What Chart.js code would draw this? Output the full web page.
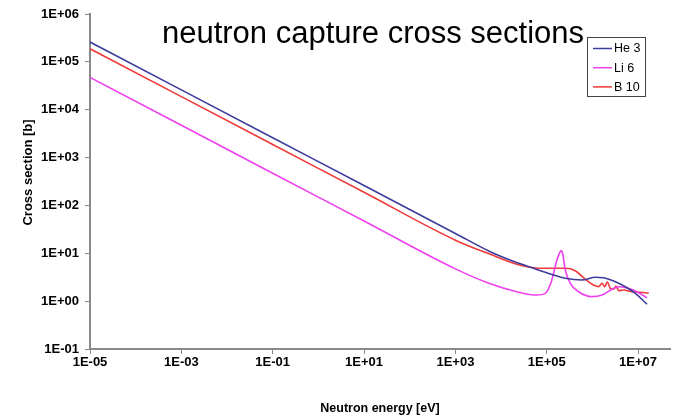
<!DOCTYPE html>
<html>
<head>
<meta charset="utf-8">
<script src="https://cdn.jsdelivr.net/npm/chart.js@4/dist/chart.umd.min.js"></script>
<style>
html,body{margin:0;padding:0;background:#fff;}
#wrap{width:681px;height:419px;position:relative;}
</style>
</head>
<body>
<div id="wrap"><canvas id="c" width="681" height="419"></canvas></div>
<script>
// ---- data ----
const chartTitle = 'neutron capture cross sections';
const xTitle = 'Neutron energy [eV]';
const yTitle = 'Cross section [b]';
const seriesNames = ['He 3', 'Li 6', 'B 10'];

const xTickValues = [1e-5, 1e-3, 1e-1, 1e1, 1e3, 1e5, 1e7];
const xTickLabels = ['1E-05', '1E-03', '1E-01', '1E+01', '1E+03', '1E+05', '1E+07'];
const yTickValues = [1e-1, 1e0, 1e1, 1e2, 1e3, 1e4, 1e5, 1e6];
const yTickLabels = ['1E-01', '1E+00', '1E+01', '1E+02', '1E+03', '1E+04', '1E+05', '1E+06'];

const he3Energy = [1e-5, 1e-3, 1e-1, 1e1, 1e3, 5.8e3, 2.2e4, 5.0e4, 9.3e4, 1.2e5, 2.55e5, 5.9e5, 1.16e6, 1.76e6, 3.18e6, 5.26e6, 8.7e6, 1.57e7];
const he3Sigma  = [2.6e5, 2.6e4, 2.6e3, 260, 26, 10.8, 6.4, 4.9, 4.0, 3.7, 3.0, 2.76, 3.15, 3.09, 2.55, 2.0, 1.46, 0.86];

const li6Energy = [1e-5, 1e-3, 1e-1, 1e1, 1e3, 5.8e3, 2.2e4, 6.1e4, 9.3e4, 1.09e5, 1.3e5, 1.67e5, 1.98e5, 2.1e5, 2.22e5, 2.55e5, 3.28e5, 4.98e5, 9.8e5, 1.63e6, 2.69e6, 3.76e6, 6.2e6, 1.03e7, 1.57e7];
const li6Sigma  = [4.72e4, 4.72e3, 472, 47.2, 4.72, 2.3, 1.57, 1.34, 1.45, 1.8, 2.8, 7.24, 10.8, 11.4, 10, 4.48, 2.36, 1.57, 1.24, 1.34, 1.77, 2.0, 1.85, 1.5, 1.17];

const b10Energy = [1e-5, 1e-3, 1e-1, 1e1, 1e3, 5.8e3, 2.2e4, 5.0e4, 9.3e4, 2.55e5, 4.2e5, 7.0e5, 1.06e6, 1.37e6, 1.63e6, 1.85e6, 2.12e6, 2.47e6, 2.92e6, 3.3e6, 3.76e6, 4.83e6, 7.4e6, 1.45e7, 1.71e7];
const b10Sigma  = [1.88e5, 1.88e4, 1.88e3, 188, 18.8, 9.5, 5.9, 5.0, 4.86, 4.86, 4.33, 2.86, 2.17, 2.0, 2.36, 2.0, 2.51, 1.85, 1.77, 2.07, 1.65, 1.71, 1.57, 1.5, 1.46];

// ---- chart ----
const FONT = '"Liberation Sans", Arial, Helvetica, sans-serif';
Chart.defaults.font.family = FONT;
Chart.defaults.color = '#000';

function pts(xs, ys) { return xs.map((x, i) => ({ x: x, y: ys[i] })); }
function labelFor(values, labels, v) {
  const i = values.findIndex(t => Math.abs(Math.log10(t) - Math.log10(v)) < 1e-6);
  return i >= 0 ? labels[i] : '';
}

const overlay = {
  id: 'overlay',
  afterDraw(chart) {
    const ctx = chart.ctx;
    ctx.save();
    // legend box
    const bx = 587, by = 37, bw = 58, bh = 59;
    ctx.fillStyle = '#fff';
    ctx.fillRect(bx, by, bw, bh);
    ctx.strokeStyle = '#444';
    ctx.lineWidth = 1;
    ctx.strokeRect(bx + 0.5, by + 0.5, bw, bh);
    ctx.font = '12.5px ' + FONT;
    ctx.textAlign = 'left';
    ctx.textBaseline = 'middle';
    chart.data.datasets.forEach((ds, i) => {
      const y = 48.5 + i * 19.2;
      ctx.strokeStyle = ds.borderColor;
      ctx.lineWidth = 1.5;
      ctx.beginPath();
      ctx.moveTo(593, y);
      ctx.lineTo(612, y);
      ctx.stroke();
      ctx.fillStyle = '#000';
      ctx.fillText(ds.label, 614, y + 0.5);
    });
    // title
    ctx.font = '31px ' + FONT;
    ctx.fillStyle = '#000';
    ctx.textAlign = 'center';
    ctx.textBaseline = 'alphabetic';
    ctx.fillText(chartTitle, 373, 43);
    ctx.restore();
  }
};

new Chart(document.getElementById('c'), {
  type: 'line',
  data: {
    datasets: [
      { label: seriesNames[0], data: pts(he3Energy, he3Sigma), borderColor: '#3c3c9c', borderWidth: 1.6, pointRadius: 0, cubicInterpolationMode: 'monotone', fill: false },
      { label: seriesNames[1], data: pts(li6Energy, li6Sigma), borderColor: '#ee40ee', borderWidth: 1.6, pointRadius: 0, cubicInterpolationMode: 'monotone', fill: false },
      { label: seriesNames[2], data: pts(b10Energy, b10Sigma), borderColor: '#ee3a3a', borderWidth: 1.6, pointRadius: 0, cubicInterpolationMode: 'monotone', fill: false }
    ]
  },
  options: {
    responsive: false,
    devicePixelRatio: 1,
    animation: false,
    parsing: true,
    layout: { padding: { left: 0, top: 14, right: 11, bottom: 0 } },
    plugins: {
      legend: { display: false },
      title: { display: false },
      tooltip: { enabled: false }
    },
    scales: {
      x: {
        type: 'logarithmic',
        position: 'bottom',
        min: 1e-5,
        max: 5e7,
        afterBuildTicks: s => { s.ticks = xTickValues.map(v => ({ value: v })); },
        afterFit: s => { s.height = 70; },
        ticks: {
          autoSkip: false, maxRotation: 0, minRotation: 0, padding: 1,
          font: { size: 13, weight: 'bold' }, color: '#000',
          callback: v => labelFor(xTickValues, xTickLabels, v)
        },
        grid: { display: true, drawOnChartArea: false, drawTicks: true, tickLength: 5, color: '#888', lineWidth: 1 },
        border: { display: true, color: '#888', width: 2 },
        title: { display: true, text: xTitle, color: '#000', font: { size: 12.5, weight: 'bold' }, padding: { top: 0, bottom: 3 } }
      },
      y: {
        type: 'logarithmic',
        position: 'left',
        min: 0.1,
        max: 1e6,
        afterBuildTicks: s => { s.ticks = yTickValues.map(v => ({ value: v })); },
        afterFit: s => { s.width = 90; },
        ticks: {
          autoSkip: false, padding: 6,
          font: { size: 13, weight: 'bold' }, color: '#000',
          callback: v => labelFor(yTickValues, yTickLabels, v)
        },
        grid: { display: true, drawOnChartArea: false, drawTicks: true, tickLength: 5, color: '#888', lineWidth: 1 },
        border: { display: true, color: '#888', width: 2 },
        title: { display: true, text: '     ' + yTitle, color: '#000', font: { size: 13, weight: 'bold' }, padding: 21 }
      }
    }
  },
  plugins: [overlay]
});
</script>
</body>
</html>
